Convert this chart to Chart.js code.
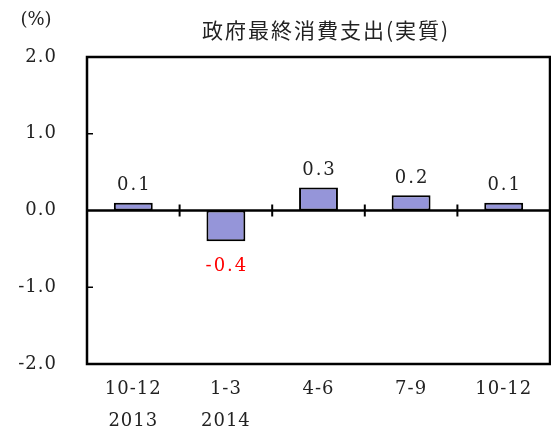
<!DOCTYPE html>
<html>
<head>
<meta charset="utf-8">
<script src="https://cdn.jsdelivr.net/npm/chart.js@4"></script>
<style>
  html, body { margin: 0; padding: 0; background: #fff; }
  #wrap { width: 551px; height: 432px; position: relative; }
</style>
</head>
<body>
<div id="wrap"><canvas id="chart"></canvas></div>
<script>
// Quarter labels (second line = year where shown)
const quarters = [["10-12", "2013"], ["1-3", "2014"], ["4-6"], ["7-9"], ["10-12"]];
// Real government final consumption expenditure, % change q/q
const growth = [0.1, -0.4, 0.3, 0.2, 0.1];
const yTicks = [-2, -1, 0, 1, 2];

const titleText = '政府最終消費支出(実質)';
const unitText = '(%)';
const serif = '"DejaVu Serif", "Liberation Serif", serif';

// The original uses a wide mincho font, so widen the tick labels a little
const spacing = {
    id: 'spacing',
    beforeDraw(chart) { chart.ctx.letterSpacing = '1px'; },
    afterDraw(chart) { chart.ctx.letterSpacing = '0px'; }
};

// Draws the frame, inside ticks, zero line, category ticks and the value labels
const decor = {
    id: 'decor',
    afterDatasetsDraw(chart) {
        const { ctx, chartArea: a, scales: { x, y } } = chart;
        const zero = y.getPixelForValue(0);
        ctx.save();
        ctx.strokeStyle = '#000';

        // zero line
        ctx.lineWidth = 2.5;
        ctx.beginPath();
        ctx.moveTo(a.left, zero);
        ctx.lineTo(a.right, zero);
        ctx.stroke();

        // small ticks on y axis, pointing inward
        ctx.lineWidth = 1.5;
        yTicks.forEach(v => {
            if (v === 0 || v === 2 || v === -2) return;
            const py = y.getPixelForValue(v);
            ctx.beginPath();
            ctx.moveTo(a.left, py);
            ctx.lineTo(a.left + 6, py);
            ctx.stroke();
        });

        // category separators crossing the zero line
        ctx.lineWidth = 2;
        for (let i = 1; i < quarters.length; i++) {
            const px = (x.getPixelForValue(i - 1) + x.getPixelForValue(i)) / 2;
            ctx.beginPath();
            ctx.moveTo(px, zero - 6);
            ctx.lineTo(px, zero + 6);
            ctx.stroke();
        }

        // frame
        ctx.lineWidth = 2.5;
        ctx.strokeRect(a.left, a.top, a.right - a.left, a.bottom - a.top);

        // value labels
        ctx.font = '18px ' + serif;
        ctx.letterSpacing = '2px';
        ctx.textAlign = 'center';
        const meta = chart.getDatasetMeta(0);
        meta.data.forEach((bar, i) => {
            const v = growth[i];
            if (v >= 0) {
                ctx.fillStyle = '#222';
                ctx.textBaseline = 'bottom';
                ctx.fillText(v.toFixed(1), bar.x + 1, bar.y - 8);
            } else {
                ctx.fillStyle = '#ff0000';
                ctx.textBaseline = 'top';
                ctx.fillText(v.toFixed(1), bar.x + 1, bar.y + 16);
            }
        });

        // title and unit
        ctx.fillStyle = '#222';
        ctx.textBaseline = 'middle';
        ctx.font = '21px "Noto Sans CJK JP", sans-serif';
        ctx.letterSpacing = '2px';
        ctx.fillText(titleText, 326, 30);
        ctx.font = '18px ' + serif;
        ctx.letterSpacing = '0px';
        ctx.fillText(unitText, 36, 20);
        ctx.restore();
    }
};

new Chart(document.getElementById('chart'), {
    type: 'bar',
    data: {
        labels: quarters,
        datasets: [{
            data: growth,
            backgroundColor: '#9595d9',
            borderColor: '#000',
            borderWidth: 2,
            borderSkipped: false,
            categoryPercentage: 1,
            barPercentage: 0.42
        }]
    },
    options: {
        responsive: true,
        maintainAspectRatio: false,
        animation: false,
        devicePixelRatio: 1,
        layout: { padding: { top: 57, right: 1, left: 0, bottom: 0 } },
        plugins: {
            legend: { display: false },
            tooltip: { enabled: false }
        },
        scales: {
            x: {
                grid: { display: false, drawTicks: false },
                border: { display: false },
                afterFit(scale) { scale.height = 68; },
                ticks: {
                    color: '#222',
                    padding: 10,
                    maxRotation: 0,
                    font: { family: serif, size: 18, lineHeight: 1.75 }
                }
            },
            y: {
                min: -2,
                max: 2,
                grid: { display: false, drawTicks: false },
                border: { display: false },
                afterFit(scale) { scale.width = 87; },
                afterBuildTicks(scale) { scale.ticks = yTicks.map(v => ({ value: v })); },
                ticks: {
                    color: '#222',
                    padding: 30,
                    font: { family: serif, size: 18 },
                    callback: v => v.toFixed(1)
                }
            }
        }
    },
    plugins: [spacing, decor]
});
</script>
</body>
</html>
